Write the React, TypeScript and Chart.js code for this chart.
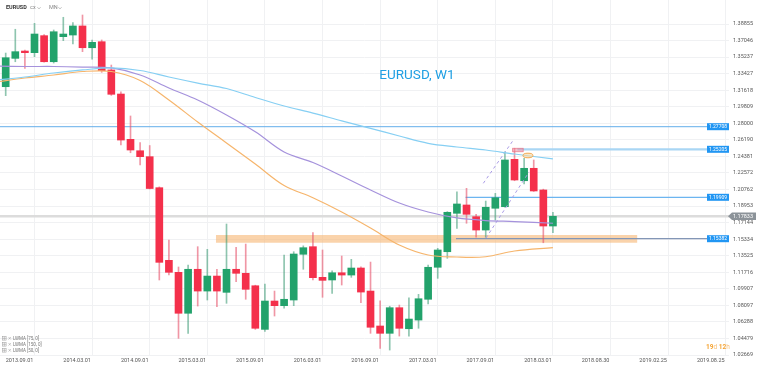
import React, { useEffect, useRef } from 'react';
import { Chart, registerables } from 'chart.js';

Chart.register(...registerables);

// ---- data ----
const xTickIdx = [0, 6, 12, 18, 24, 30, 36, 42, 48, 54, 60, 66, 72];
const xLabels = ['2013.09.01', '2014.03.01', '2014.09.01', '2015.03.01', '2015.09.01', '2016.03.01', '2016.09.01', '2017.03.01', '2017.09.01', '2018.03.01', '2018.08.30', '2019.02.25', '2019.08.25'];
const yTicks = [1.02669, 1.04479, 1.06288, 1.08097, 1.09907, 1.11716, 1.13525, 1.15334, 1.17144, 1.18953, 1.20762, 1.22572, 1.24381, 1.2619, 1.28, 1.29809, 1.31618, 1.33427, 1.35237, 1.37046, 1.38855];

const opens = [1.3200, 1.3510, 1.3590, 1.3572, 1.3758, 1.3473, 1.3747, 1.3765, 1.3864, 1.3626, 1.3692, 1.3383, 1.3120, 1.2625, 1.2500, 1.2435, 1.2096, 1.1302, 1.1171, 1.0723, 1.1204, 1.0966, 1.1130, 1.0952, 1.1204, 1.1160, 1.1024, 1.0547, 1.0857, 1.0806, 1.0868, 1.1368, 1.1451, 1.1116, 1.1087, 1.1166, 1.1141, 1.1218, 1.0966, 1.0584, 1.0504, 1.0784, 1.0554, 1.0649, 1.0876, 1.1226, 1.1396, 1.1816, 1.1907, 1.1779, 1.1633, 1.1871, 1.1888, 1.2406, 1.2172, 1.2308, 1.2071, 1.1677];
const highs = [1.3568, 1.3828, 1.3601, 1.3893, 1.3769, 1.3820, 1.3959, 1.3900, 1.3984, 1.3711, 1.3711, 1.3437, 1.3145, 1.2880, 1.2588, 1.2557, 1.2105, 1.1524, 1.1229, 1.1251, 1.1451, 1.1422, 1.1204, 1.1699, 1.1444, 1.1480, 1.1030, 1.1043, 1.0966, 1.1360, 1.1396, 1.1460, 1.1604, 1.1415, 1.1188, 1.1349, 1.1313, 1.1230, 1.1283, 1.0860, 1.0800, 1.0813, 1.0893, 1.0930, 1.1251, 1.1433, 1.1834, 1.2052, 1.2089, 1.1805, 1.1950, 1.2034, 1.2489, 1.2527, 1.2417, 1.2399, 1.2080, 1.1827];
const lows = [1.3102, 1.3473, 1.3401, 1.3528, 1.3467, 1.3459, 1.3703, 1.3667, 1.3583, 1.3500, 1.3357, 1.3105, 1.2563, 1.2478, 1.2344, 1.2082, 1.1087, 1.1141, 1.0449, 1.0504, 1.0802, 1.0868, 1.0795, 1.0832, 1.1068, 1.0876, 1.0547, 1.0524, 1.0693, 1.0780, 1.0806, 1.1204, 1.1087, 1.0898, 1.0941, 1.1032, 1.1116, 1.0838, 1.0504, 1.0340, 1.0321, 1.0474, 1.0474, 1.0559, 1.0824, 1.1105, 1.1324, 1.1652, 1.1707, 1.1554, 1.1554, 1.1743, 1.1882, 1.2172, 1.2136, 1.2055, 1.1494, 1.1604];
const closes = [1.3517, 1.3583, 1.3572, 1.3776, 1.3473, 1.3801, 1.3776, 1.3864, 1.3626, 1.3685, 1.3375, 1.3117, 1.2617, 1.2508, 1.2435, 1.2087, 1.1280, 1.1171, 1.0723, 1.1204, 1.0966, 1.1130, 1.0966, 1.1204, 1.1160, 1.0985, 1.0559, 1.0857, 1.0806, 1.0876, 1.1371, 1.1440, 1.1112, 1.1083, 1.1166, 1.1141, 1.1218, 1.0955, 1.0570, 1.0504, 1.0784, 1.0559, 1.0660, 1.0882, 1.1226, 1.1415, 1.1827, 1.1918, 1.1805, 1.1633, 1.1882, 1.1986, 1.2399, 1.2180, 1.2308, 1.2060, 1.1677, 1.1783];

const maIdx = [-1, 2, 5, 8, 11, 14, 17, 20, 23, 26, 29, 32, 35, 38, 41, 44, 47, 50, 53, 57];
const lwma150 = [1.3273, 1.3306, 1.3350, 1.3383, 1.3405, 1.3377, 1.3306, 1.3240, 1.3180, 1.3082, 1.2989, 1.2912, 1.2827, 1.2745, 1.2661, 1.2581, 1.2541, 1.2508, 1.2464, 1.2410];
const lwma75 = [1.3426, 1.3421, 1.3421, 1.3415, 1.3405, 1.3328, 1.3186, 1.3055, 1.2891, 1.2707, 1.2486, 1.2371, 1.2224, 1.2071, 1.1928, 1.1830, 1.1765, 1.1737, 1.1726, 1.1707];
const lwma50 = [1.3251, 1.3295, 1.3328, 1.3366, 1.3366, 1.3268, 1.3055, 1.2814, 1.2585, 1.2355, 1.2120, 1.1986, 1.1830, 1.1655, 1.1469, 1.1360, 1.1338, 1.1341, 1.1404, 1.1440];

const levelPrices = [1.27627, 1.25156, 1.19909, 1.15382];
const levelLabels = ['1.27708', '1.25205', '1.19909', '1.15382'];
const levelStart = [-1, 53.3, 47.9, 46.9];
const lastPrice = 1.17833;

const bandIdx = [21.9, 65.8];
const bandTop = 1.15786;
const bandBottom = 1.14944;

const channelA = [{ x: 49.75, y: 1.2144 }, { x: 52.88, y: 1.2617 }];
const channelB = [{ x: 50.03, y: 1.1546 }, { x: 54.51, y: 1.2267 }];

const markRect = { x0: 52.8, x1: 53.9, hi: 1.2527, lo: 1.2489 };
const markEllipse = { x: 54.4, y: 1.2448 };

const legendItems = ['LWMA [75, 0]', 'LWMA [150, 0]', 'LWMA [50, 0]'];

const GREEN = '#22a26b';
const RED = '#f4304b';
const FONT = 'Roboto, "Noto Sans", sans-serif';

const overlayPlugin = {
  id: 'overlay',
  afterDatasetsDraw(chart: any) {
    const { ctx, chartArea, scales } = chart;
    const xs = scales.x;
    const ys = scales.y;
    ctx.save();
    // marker rectangle
    const rx0 = xs.getPixelForValue(markRect.x0);
    const rx1 = xs.getPixelForValue(markRect.x1);
    const ry0 = ys.getPixelForValue(markRect.hi);
    const ry1 = ys.getPixelForValue(markRect.lo);
    ctx.fillStyle = 'rgba(240,140,160,0.55)';
    ctx.fillRect(rx0, ry0, rx1 - rx0, ry1 - ry0);
    ctx.strokeStyle = 'rgba(230,110,130,0.8)';
    ctx.lineWidth = 0.8;
    ctx.strokeRect(rx0, ry0, rx1 - rx0, ry1 - ry0);
    // ellipse
    const ex = xs.getPixelForValue(markEllipse.x);
    const ey = ys.getPixelForValue(markEllipse.y);
    ctx.beginPath();
    ctx.ellipse(ex, ey, 5, 2.3, 0, 0, Math.PI * 2);
    ctx.fillStyle = 'rgba(250,215,160,0.6)';
    ctx.fill();
    ctx.strokeStyle = '#f2a74e';
    ctx.lineWidth = 1;
    ctx.stroke();

    // level label boxes
    ctx.font = `5px ${FONT}`;
    ctx.textBaseline = 'middle';
    levelPrices.forEach((p, i) => {
      const y = ys.getPixelForValue(p);
      const w = 22;
      const x = chartArea.right - w;
      ctx.fillStyle = '#2196f3';
      ctx.fillRect(x, y - 3.5, w, 7);
      ctx.fillStyle = '#ffffff';
      ctx.textAlign = 'center';
      ctx.fillText(levelLabels[i], x + w / 2, y + 0.3);
    });

    // current price box
    const cy = ys.getPixelForValue(lastPrice);
    const bx = chartArea.right - 1;
    ctx.beginPath();
    ctx.moveTo(bx, cy);
    ctx.lineTo(bx + 4, cy - 3.8);
    ctx.lineTo(bx + 28, cy - 3.8);
    ctx.lineTo(bx + 28, cy + 3.8);
    ctx.lineTo(bx + 4, cy + 3.8);
    ctx.closePath();
    ctx.fillStyle = '#8c9399';
    ctx.fill();
    ctx.fillStyle = '#ffffff';
    ctx.font = `5.5px ${FONT}`;
    ctx.textAlign = 'left';
    ctx.fillText(lastPrice.toFixed(5), bx + 5, cy + 0.3);

    // watermark
    ctx.font = `13.5px ${FONT}`;
    ctx.fillStyle = '#1f9fe3';
    ctx.textAlign = 'center';
    ctx.textBaseline = 'middle';
    ctx.fillText('EURUSD, W1', 417, 76);

    // header
    ctx.textAlign = 'left';
    ctx.font = `bold 5.5px ${FONT}`;
    ctx.fillStyle = '#333';
    ctx.fillText('EURUSD', 6, 8);
    ctx.font = `5.5px ${FONT}`;
    ctx.fillStyle = '#888';
    ctx.fillText('cx', 30, 8);
    ctx.fillText('MN', 49, 8);
    ctx.strokeStyle = '#999';
    ctx.lineWidth = 0.7;
    [39, 60].forEach((cx) => {
      ctx.beginPath();
      ctx.moveTo(cx - 1.5, 7.3);
      ctx.lineTo(cx, 8.8);
      ctx.lineTo(cx + 1.5, 7.3);
      ctx.stroke();
    });

    // legend
    ctx.font = `4.5px ${FONT}`;
    legendItems.forEach((t, i) => {
      const y = 338.3 + i * 6;
      ctx.strokeStyle = '#999';
      ctx.lineWidth = 0.5;
      ctx.strokeRect(2.5, y - 1.8, 3.6, 3.6);
      ctx.beginPath();
      ctx.moveTo(2.5, y); ctx.lineTo(6.1, y);
      ctx.moveTo(4.3, y - 1.8); ctx.lineTo(4.3, y + 1.8);
      ctx.stroke();
      ctx.beginPath();
      ctx.moveTo(8.5, y - 1.3); ctx.lineTo(10.9, y + 1.3);
      ctx.moveTo(10.9, y - 1.3); ctx.lineTo(8.5, y + 1.3);
      ctx.stroke();
      ctx.fillStyle = '#777';
      ctx.fillText(t, 13, y + 0.2);
    });

    // countdown
    ctx.textAlign = 'left';
    let tx = 706;
    const parts: [string, boolean][] = [['19', true], ['d ', false], ['12', true], ['h', false]];
    parts.forEach(([s, b]) => {
      ctx.font = `${b ? 'bold ' : ''}6.5px ${FONT}`;
      ctx.fillStyle = b ? '#f5a331' : '#f7bf77';
      ctx.fillText(s, tx, 347);
      tx += ctx.measureText(s).width;
    });
    ctx.restore();
  },
};

export default function App() {
  const ref = useRef<HTMLCanvasElement | null>(null);
  useEffect(() => {
    document.body.style.margin = '0';
    const idx = opens.map((_, i) => i);
    const up = idx.map((i) => closes[i] >= opens[i]);
    const maData = (arr: number[]) => maIdx.map((x, i) => ({ x, y: arr[i] }));
    const levelColors = ['#64aeea', '#a9d6f4', '#6cb5f0', '#8396b6'];
    const levelWidths = [1, 2.2, 1.3, 1.3];
    const datasets: any[] = [
      {
        type: 'line', data: [{ x: bandIdx[0], y: bandBottom }, { x: bandIdx[1], y: bandBottom }],
        borderWidth: 0, pointRadius: 0, order: 20, fill: false,
      },
      {
        type: 'line', data: [{ x: bandIdx[0], y: bandTop }, { x: bandIdx[1], y: bandTop }],
        borderWidth: 0, pointRadius: 0, order: 19, fill: '-1', backgroundColor: 'rgba(247,184,120,0.62)',
      },
      {
        type: 'line', data: [{ x: -1, y: lastPrice }, { x: 80, y: lastPrice }],
        borderColor: '#dcdcdc', borderWidth: 2.5, pointRadius: 0, order: 15,
      },
      ...levelPrices.map((p, i) => ({
        type: 'line', data: [{ x: levelStart[i], y: p }, { x: 80, y: p }],
        borderColor: levelColors[i], borderWidth: levelWidths[i], pointRadius: 0, order: 10,
      })),
      {
        type: 'bar', data: idx.map((i) => ({ x: i, y: [lows[i], highs[i]] })),
        backgroundColor: idx.map((i) => (up[i] ? 'rgba(50,150,110,0.55)' : 'rgba(230,80,105,0.6)')),
        barThickness: 1, grouped: false, order: 4,
      },
      {
        type: 'bar', data: idx.map((i) => ({ x: i, y: [opens[i], closes[i]] })),
        backgroundColor: idx.map((i) => (up[i] ? GREEN : RED)),
        barThickness: 7, grouped: false, minBarLength: 1, order: 3,
      },
      { type: 'line', data: maData(lwma150), borderColor: '#86cff3', borderWidth: 1.2, pointRadius: 0, tension: 0.35, order: 1 },
      { type: 'line', data: maData(lwma75), borderColor: '#a592dc', borderWidth: 1.2, pointRadius: 0, tension: 0.35, order: 1 },
      { type: 'line', data: maData(lwma50), borderColor: '#f6b56c', borderWidth: 1.2, pointRadius: 0, tension: 0.35, order: 1 },
      { type: 'line', data: channelA, borderColor: '#a99be6', borderWidth: 1, borderDash: [3, 3], pointRadius: 0, order: 1 },
      { type: 'line', data: channelB, borderColor: '#a99be6', borderWidth: 1, borderDash: [3, 3], pointRadius: 0, order: 1 },
    ];
    const chart = new Chart(ref.current as HTMLCanvasElement, {
      type: 'bar',
      data: { datasets },
      plugins: [overlayPlugin],
      options: {
        animation: false,
        responsive: true,
        maintainAspectRatio: false,
        layout: { padding: 0 },
        plugins: { legend: { display: false }, tooltip: { enabled: false } },
        scales: {
          x: {
            type: 'linear', min: -0.594, max: 75.34, offset: false,
            grid: { color: '#f0f1f3', drawTicks: false },
            border: { display: false },
            afterBuildTicks: (s: any) => { s.ticks = xTickIdx.map((v) => ({ value: v })); },
            afterFit: (s: any) => { s.height = 13; s.paddingLeft = 0; s.paddingRight = 0; },
            ticks: {
              autoSkip: false, maxRotation: 0, align: 'start', padding: 2,
              color: '#555', font: { size: 5.5, family: FONT },
              callback: (v: any) => xLabels[xTickIdx.indexOf(Number(v))] ?? '',
            },
          },
          y: {
            type: 'linear', position: 'right', min: 1.02669, max: 1.41479,
            grid: { color: '#f0f1f3', drawTicks: false },
            border: { display: false },
            afterBuildTicks: (s: any) => { s.ticks = yTicks.map((v) => ({ value: v })); },
            afterFit: (s: any) => { s.width = 31; s.paddingTop = 0; s.paddingBottom = 0; },
            ticks: {
              autoSkip: false, padding: 4, color: '#555', font: { size: 5.5, family: FONT },
              callback: (v: any) => Number(v).toFixed(5),
            },
          },
        },
      } as any,
    });
    return () => chart.destroy();
  }, []);
  return (
    <div style={{ width: 760, height: 368, position: 'relative' }}>
      <canvas ref={ref} />
    </div>
  );
}
